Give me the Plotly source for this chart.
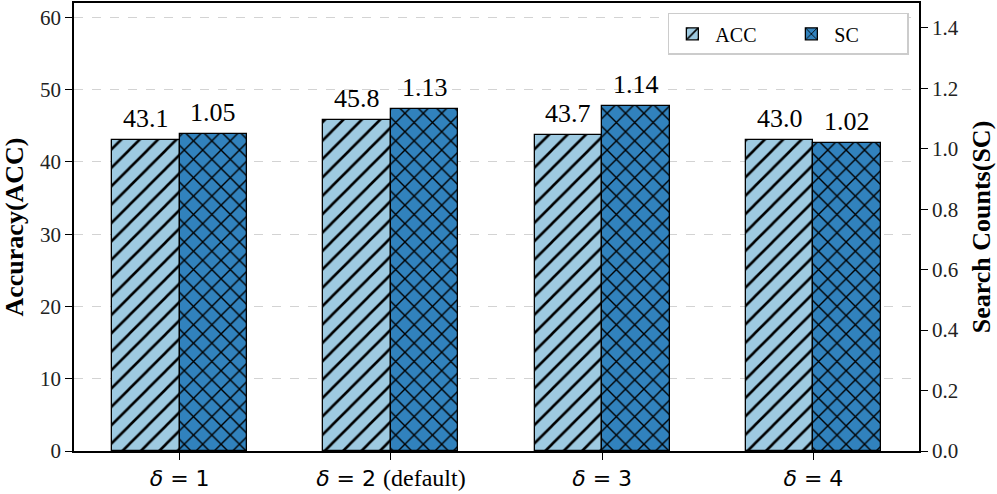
import plotly.graph_objects as go

categories = ["δ = 1", "δ = 2 (default)", "δ = 3", "δ = 4"]
acc_values = [43.1, 45.8, 43.7, 43.0]
sc_values = [1.05, 1.13, 1.14, 1.02]
acc_labels = ["43.1", "45.8", "43.7", "43.0"]
sc_labels = ["1.05", "1.13", "1.14", "1.02"]
left_ticks = [0, 10, 20, 30, 40, 50, 60]
right_ticks = [0.0, 0.2, 0.4, 0.6, 0.8, 1.0, 1.2, 1.4]

x_idx = list(range(len(categories)))
tick_text = [
    '<i>δ</i> = 1',
    '<i>δ</i> = 2 <span style="font-family:Liberation Serif;font-size:24px">(default)</span>',
    '<i>δ</i> = 3',
    '<i>δ</i> = 4',
]

W = 0.32
SERIF = "Liberation Serif"

fig = go.Figure()
fig.add_trace(go.Bar(
    x=x_idx, y=acc_values, name="ACC", width=W, offset=-W,
    marker=dict(color="#9ecae1", line=dict(color="black", width=1.3),
                pattern=dict(shape="/", fgcolor="black", bgcolor="#9ecae1", size=13, solidity=0.2, fgopacity=1)),
    yaxis="y",
))
fig.add_trace(go.Bar(
    x=x_idx, y=sc_values, name="SC", width=W, offset=0,
    marker=dict(color="#3182bd", line=dict(color="black", width=1.3),
                pattern=dict(shape="x", fgcolor="black", bgcolor="#3182bd", size=13, solidity=0.2, fgopacity=1)),
    yaxis="y2",
))

annotations = []
for i, (v, t) in enumerate(zip(acc_values, acc_labels)):
    annotations.append(dict(x=i - W / 2, y=v, xref="x", yref="y", text=t, showarrow=False,
                            yanchor="bottom", yshift=5, font=dict(family=SERIF, size=26, color="black")))
for i, (v, t) in enumerate(zip(sc_values, sc_labels)):
    annotations.append(dict(x=i + W / 2, y=v, xref="x", yref="y2", text=t, showarrow=False,
                            yanchor="bottom", yshift=5, font=dict(family=SERIF, size=26, color="black")))

fig.update_layout(
    width=997, height=494,
    margin=dict(l=74, r=78, t=1, b=43),
    plot_bgcolor="white", paper_bgcolor="white",
    font=dict(family=SERIF, color="black"),
    barmode="overlay",
    bargap=0,
    annotations=annotations,
    xaxis=dict(
        range=[-0.5, 3.5], tickmode="array", tickvals=x_idx, ticktext=tick_text,
        tickfont=dict(size=22, family="DejaVu Sans", color="black"),
        showline=True, linecolor="black", linewidth=1.5, mirror=True,
        ticks="outside", ticklen=7, tickcolor="black", showgrid=False, zeroline=False,
    ),
    yaxis=dict(
        range=[0, 62], tickmode="array", tickvals=left_ticks,
        tickfont=dict(size=21, family=SERIF, color="#222"),
        showline=True, linecolor="black", linewidth=1.5, mirror=False,
        ticks="outside", ticklen=7, tickcolor="black",
        showgrid=True, gridcolor="#d3d3d3", griddash="dash", gridwidth=1, zeroline=False,
        title=dict(text="<b>Accuracy(ACC)</b>", font=dict(size=26, family=SERIF), standoff=11),
    ),
    yaxis2=dict(
        range=[0, 1.482], overlaying="y", side="right", tickmode="array", tickvals=right_ticks,
        ticktext=[f"{v:.1f}" for v in right_ticks],
        tickfont=dict(size=21, family=SERIF, color="#222"),
        showline=True, linecolor="black", linewidth=1.5,
        ticks="outside", ticklen=7, tickcolor="black", showgrid=False, zeroline=False,
        title=dict(text="<b>Search Counts(SC)</b>", font=dict(size=26, family=SERIF), standoff=14),
    ),
    legend=dict(
        orientation="h", x=0.988, xanchor="right", y=0.978, yanchor="top",
        bgcolor="white", bordercolor="#cccccc", borderwidth=1.5,
        font=dict(size=20, family=SERIF), itemwidth=36, entrywidth=68,
    ),
    showlegend=True,
)

fig.write_html("out.html")
